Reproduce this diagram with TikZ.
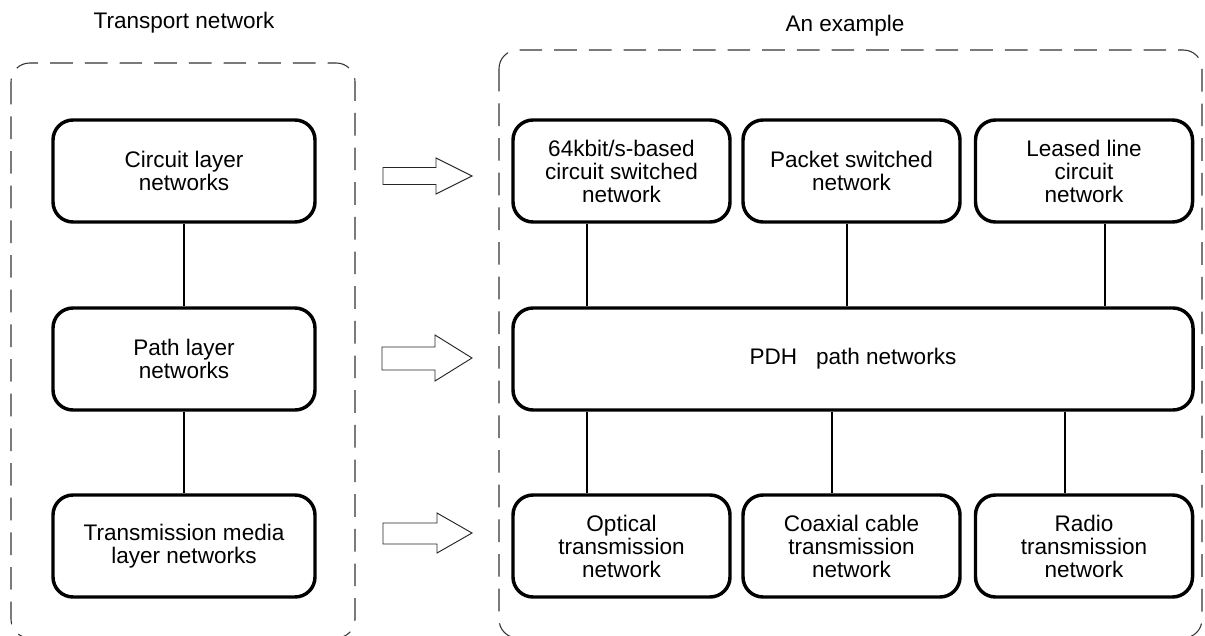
\documentclass[tikz,border=0pt]{standalone}
\usepackage{fontspec}
\setmainfont{Liberation Sans}
\begin{document}
\begin{tikzpicture}[x=0.75pt,y=-0.75pt,
  txt/.style={font=\fontsize{16.9}{17.25}\selectfont},
  box/.style={draw, line width=2.6pt, rounded corners=15pt, align=center,
    minimum height=76.5pt, inner sep=0pt, txt},
  lbox/.style={box, minimum width=196.5pt},
  rbox/.style={box, minimum width=162.75pt},
  link/.style={line width=1.5pt},
  container/.style={draw=black!80, line width=0.8pt, dash pattern=on 17pt off 9pt, rounded corners=14pt},
  bigarrow/.style={draw=black!85, line width=0.7pt, fill=white, line join=miter}]
\useasboundingbox (0,0) rectangle (1205,635);
\clip (0,0) rectangle (1205,635);

% containers
\draw[container] (11,63) rectangle (355,638);
\draw[container] (499,50) rectangle (1202,638);

% titles
\node[txt, anchor=base] (ttl1) at (184,29) {Transport network};
\node[txt, anchor=base] (ttl2) at (845,32) {An example};

% left column
\node[lbox] (circ) at (184,171) {Circuit layer\\networks};
\node[lbox] (pathl) at (184,359) {Path layer\\networks};
\node[lbox] (media) at (184,546) {Transmission media\\layer networks};
\draw[link] (circ) -- (pathl);
\draw[link] (pathl) -- (media);

% right side
\node[rbox] (n64) at (621.5,171) {64kbit/s-based\\circuit switched\\network};
\node[rbox] (pkt) at (851.5,171) {Packet switched\\network};
\node[rbox] (lsd) at (1084,171) {Leased line\\circuit\\network};
\node[box, minimum width=510pt] (pdh) at (853,359) {PDH\ \ \ path networks};
\node[rbox] (opt) at (621.5,546) {Optical\\transmission\\network};
\node[rbox] (coax) at (851.5,546) {Coaxial cable\\transmission\\network};
\node[rbox] (radio) at (1084,546) {Radio\\transmission\\network};

\coordinate (u1) at (587,0);
\coordinate (u2) at (847,0);
\coordinate (u3) at (1105,0);
\coordinate (d1) at (587,0);
\coordinate (d2) at (832,0);
\coordinate (d3) at (1065,0);
\draw[link] (n64.south -| u1) -- (pdh.north -| u1);
\draw[link] (pkt.south -| u2) -- (pdh.north -| u2);
\draw[link] (lsd.south -| u3) -- (pdh.north -| u3);
\draw[link] (pdh.south -| d1) -- (opt.north -| d1);
\draw[link] (pdh.south -| d2) -- (coax.north -| d2);
\draw[link] (pdh.south -| d3) -- (radio.north -| d3);

% block arrows
\draw[bigarrow] (383,167.5) -- (436,167.5) -- (436,158) -- (472,176) -- (436,194) -- (436,184.5) -- (383,184.5) -- cycle;
\draw[bigarrow] (382,347) -- (435,347) -- (435,335) -- (472,358) -- (435,381) -- (435,370) -- (382,370) -- cycle;
\draw[bigarrow] (383,523) -- (437,523) -- (437,513) -- (472,533) -- (437,553) -- (437,544) -- (383,544) -- cycle;
\end{tikzpicture}
\end{document}
